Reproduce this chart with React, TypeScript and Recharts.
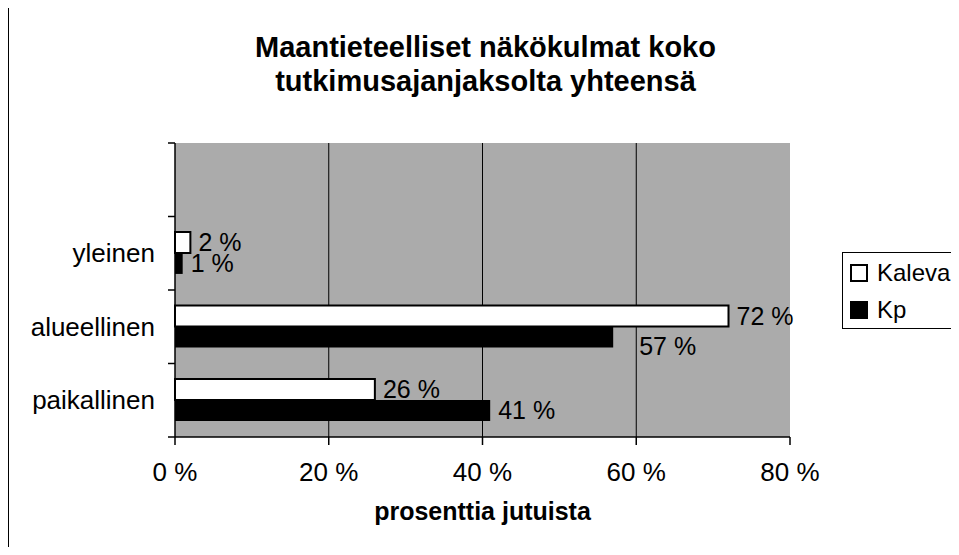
import { Bar, BarChart, CartesianGrid, LabelList, Legend, XAxis, YAxis } from 'recharts'

const categories = ['', 'yleinen', 'alueellinen', 'paikallinen']
const kaleva = [null, 2, 72, 26]
const kp = [null, 1, 57, 41]
const xTicks = [0, 20, 40, 60, 80]

const W = 959
const H = 555
const PLOT_LEFT = 175
const PLOT_RIGHT = 790
const PLOT_TOP = 143
const PLOT_BOTTOM = 437
const BAND = (PLOT_BOTTOM - PLOT_TOP) / categories.length
const FONT = '"Liberation Sans", Arial, sans-serif'

// the 57 % label sits lower and further right in the original
const kpLabelNudge: Record<string, [number, number]> = { alueellinen: [18, 9] }

const data = categories.map((name, i) => ({ name, kaleva: kaleva[i], kp: kp[i] }))

function CategoryTick(props: any) {
  const { y, payload, index } = props
  const top = y - BAND / 2
  return (
    <g>
      <line x1={PLOT_LEFT - 7} x2={PLOT_LEFT} y1={top} y2={top} stroke="#000" strokeWidth={1.5} />
      {index === categories.length - 1 && (
        <line x1={PLOT_LEFT - 7} x2={PLOT_LEFT} y1={top + BAND} y2={top + BAND} stroke="#000" strokeWidth={1.5} />
      )}
      <text
        x={PLOT_LEFT - 20}
        y={y}
        textAnchor="end"
        dominantBaseline="central"
        fontSize={26}
        fontFamily={FONT}
        fill="#000"
      >
        {payload.value}
      </text>
    </g>
  )
}

function valueLabel(nudge: Record<string, [number, number]>) {
  return (props: any) => {
    const { x, y, width, height, value } = props
    if (value == null) return null
    const cy = y + height / 2
    const cat = categories[Math.floor((cy - PLOT_TOP) / BAND)]
    const [dx, dy] = nudge[cat] || [0, 0]
    return (
      <text
        x={x + width + 8 + dx}
        y={cy + dy}
        dominantBaseline="central"
        fontSize={25}
        fontFamily={FONT}
        fill="#000"
      >
        {`${value} %`}
      </text>
    )
  }
}

function BoxLegend() {
  const items = [
    { label: 'Kaleva', fill: '#fff' },
    { label: 'Kp', fill: '#000' },
  ]
  return (
    <div
      style={{
        borderLeft: '1px solid #000',
        borderTop: '1px solid #000',
        borderBottom: '1px solid #000',
        background: '#fff',
        width: 117,
        height: 77,
        boxSizing: 'border-box',
        padding: '1px 0 0 7px',
        fontFamily: FONT,
        fontSize: 24,
      }}
    >
      {items.map((it) => (
        <div key={it.label} style={{ display: 'flex', alignItems: 'center', height: 37 }}>
          <span
            style={{
              display: 'inline-block',
              width: 18,
              height: 18,
              background: it.fill,
              border: '2px solid #000',
              boxSizing: 'border-box',
              marginRight: 9,
            }}
          />
          {it.label}
        </div>
      ))}
    </div>
  )
}

export default function App() {
  return (
    <div style={{ position: 'relative', width: W, height: H, margin: -8, overflow: 'hidden', background: '#fff' }}>
      <div
        style={{
          position: 'absolute',
          left: 0,
          top: 30,
          width: 971,
          textAlign: 'center',
          fontFamily: FONT,
          fontWeight: 'bold',
          fontSize: 29,
          lineHeight: '34px',
        }}
      >
        Maantieteelliset näkökulmat koko
        <br />
        tutkimusajanjaksolta yhteensä
      </div>
      <div
        style={{
          position: 'absolute',
          left: PLOT_LEFT,
          width: PLOT_RIGHT - PLOT_LEFT,
          top: 499,
          textAlign: 'center',
          fontFamily: FONT,
          fontWeight: 'bold',
          fontSize: 25,
          lineHeight: '25px',
        }}
      >
        prosenttia jutuista
      </div>
      <BarChart
        width={W}
        height={H}
        data={data}
        layout="vertical"
        margin={{ top: PLOT_TOP, right: W - PLOT_RIGHT, bottom: H - PLOT_BOTTOM - 40, left: PLOT_LEFT - 160 }}
        barCategoryGap="21%"
        barGap={0}
        style={{ position: 'absolute', left: 0, top: 0 }}
      >
        <CartesianGrid
          fill="#ababab"
          fillOpacity={1}
          horizontal={false}
          verticalValues={[20, 40, 60]}
          stroke="#000"
          strokeWidth={1}
        />
        <XAxis
          type="number"
          domain={[0, 80]}
          ticks={xTicks}
          tickFormatter={(v) => `${v} %`}
          height={40}
          tickSize={8}
          tickMargin={18}
          axisLine={{ stroke: '#000', strokeWidth: 1.5 }}
          tickLine={{ stroke: '#000', strokeWidth: 1.5 }}
          tick={{ fill: '#000', fontSize: 26, fontFamily: FONT }}
        />
        <YAxis
          type="category"
          dataKey="name"
          width={160}
          tickLine={false}
          axisLine={{ stroke: '#000', strokeWidth: 1.5 }}
          tick={<CategoryTick />}
          interval={0}
        />
        <Legend
          layout="vertical"
          align="center"
          verticalAlign="middle"
          content={<BoxLegend />}
          wrapperStyle={{ left: 842, top: 252, width: 117, height: 77 }}
        />
        <Bar dataKey="kaleva" name="Kaleva" fill="#fff" stroke="#000" strokeWidth={2} isAnimationActive={false}>
          <LabelList dataKey="kaleva" content={valueLabel({})} />
        </Bar>
        <Bar dataKey="kp" name="Kp" fill="#000" isAnimationActive={false}>
          <LabelList dataKey="kp" content={valueLabel(kpLabelNudge)} />
        </Bar>
      </BarChart>
      <div
        style={{
          position: 'absolute',
          left: 7,
          top: 2,
          width: 980,
          height: 580,
          borderLeft: '2px solid #000',
          borderTop: '2px solid #000',
          pointerEvents: 'none',
        }}
      />
    </div>
  )
}
